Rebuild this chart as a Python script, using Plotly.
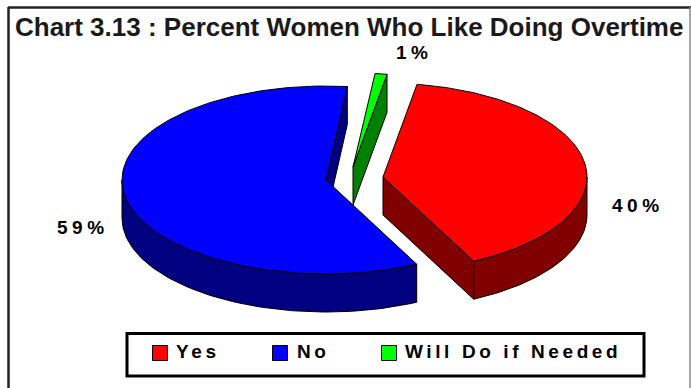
import numpy as np
import plotly.graph_objects as go

categories = ["Yes", "No", "Will Do if Needed"]
values = [40, 59, 1]
value_labels = ["40%", "59%", "1%"]
top_colors = ["#FF0000", "#0000FF", "#00FF00"]
side_colors = ["#800000", "#000080", "#008000"]

W, H = 691, 388
RX, RY, DEPTH = 204, 94, 38
FIRST_ANGLE = 9.6
# Exploded apex of every wedge on the canvas
apexes = [(383, 177), (326, 180), (353, 167)]
label_pos = [(612, 207), (57, 229), (396, 54)]
legend_swatch = [(160, 353), (280, 353), (389, 353)]
legend_text_x = [176, 297, 405]

fig = go.Figure()


def rim(cx, cy, a0, a1, dy=0, n=90):
    t = np.radians(np.linspace(a0, a1, n))
    return cx + RX * np.sin(t), cy - RY * np.cos(t) + dy


def poly(xs, ys, color):
    fig.add_trace(go.Scatter(
        x=list(xs) + [xs[0]], y=list(ys) + [ys[0]], mode="lines", fill="toself",
        fillcolor=color, line=dict(color="black", width=1),
        hoverinfo="skip", showlegend=False))


# Wedge angles follow the data
spans = [v / sum(values) * 360 for v in values]
starts = [FIRST_ANGLE + sum(spans[:i]) for i in range(len(spans))]

for i in (1, 2, 0):
    cx, cy = apexes[i]
    a0, a1 = starts[i], starts[i] + spans[i]
    # Radial wall facing the viewer
    ex, ey = rim(cx, cy, a1, a1, n=1)
    poly([cx, ex[0], ex[0], cx], [cy, ey[0], ey[0] + DEPTH, cy + DEPTH], side_colors[i])
    # Outer wall: only the front half of the ellipse
    lo, hi = max(a0, 90), min(a1, 270)
    if hi > lo:
        xt, yt = rim(cx, cy, lo, hi)
        xb, yb = rim(cx, cy, hi, lo, DEPTH)
        poly(np.r_[xt, xb], np.r_[yt, yb], side_colors[i])
    # Top face
    xt, yt = rim(cx, cy, a0, a1, n=160)
    poly(np.r_[cx, xt], np.r_[cy, yt], top_colors[i])

# Percent labels
fig.add_trace(go.Scatter(
    x=[p[0] for p in label_pos], y=[p[1] for p in label_pos], mode="text",
    text=value_labels, textposition="middle right",
    textfont=dict(family="Liberation Sans", size=19, color="black", weight="bold"),
    hoverinfo="skip", showlegend=False))

# Legend
for i, name in enumerate(categories):
    fig.add_trace(go.Scatter(
        x=[legend_swatch[i][0]], y=[legend_swatch[i][1]], mode="markers",
        marker=dict(symbol="square", size=15, color=top_colors[i],
                    line=dict(color="black", width=1)),
        hoverinfo="skip", showlegend=False))
    fig.add_trace(go.Scatter(
        x=[legend_text_x[i]], y=[legend_swatch[i][1]], mode="text", text=[name],
        textposition="middle right",
        textfont=dict(family="Liberation Sans", size=19, color="black", weight="bold"),
        hoverinfo="skip", showlegend=False))

frame = dict(type="line", xref="x", yref="y", layer="below")
fig.update_layout(
    width=W, height=H, margin=dict(l=0, r=0, t=0, b=0),
    paper_bgcolor="white", plot_bgcolor="white", showlegend=False,
    xaxis=dict(range=[0, W], visible=False, fixedrange=True),
    yaxis=dict(range=[H, 0], visible=False, fixedrange=True),
    shapes=[
        dict(frame, x0=8, y0=7.5, x1=691, y1=7.5, line=dict(color="#222222", width=2.5)),
        dict(frame, x0=8.5, y0=7, x1=8.5, y1=388, line=dict(color="#222222", width=2.5)),
        dict(frame, x0=690, y0=7, x1=690, y1=388, line=dict(color="#888888", width=1.5)),
        dict(type="rect", xref="x", yref="y", x0=127, y0=333.5, x1=644, y1=376,
             line=dict(color="black", width=3), layer="below"),
    ],
    annotations=[dict(
        text="<b>Chart 3.13 : Percent Women Who Like Doing Overtime</b>",
        xref="x", yref="y", x=349, y=27, showarrow=False, xanchor="center", yanchor="middle",
        font=dict(family="Liberation Sans", size=26, color="#1a1a1a"))],
)

post = """
document.body.style.margin = '0';
document.querySelectorAll('.textpoint text').forEach(function (t) {
  t.style.letterSpacing = t.textContent.indexOf('%') >= 0 ? '4.5px' : '3.6px';
});
"""
fig.write_html("out.html", post_script=post, config={"displayModeBar": False})
